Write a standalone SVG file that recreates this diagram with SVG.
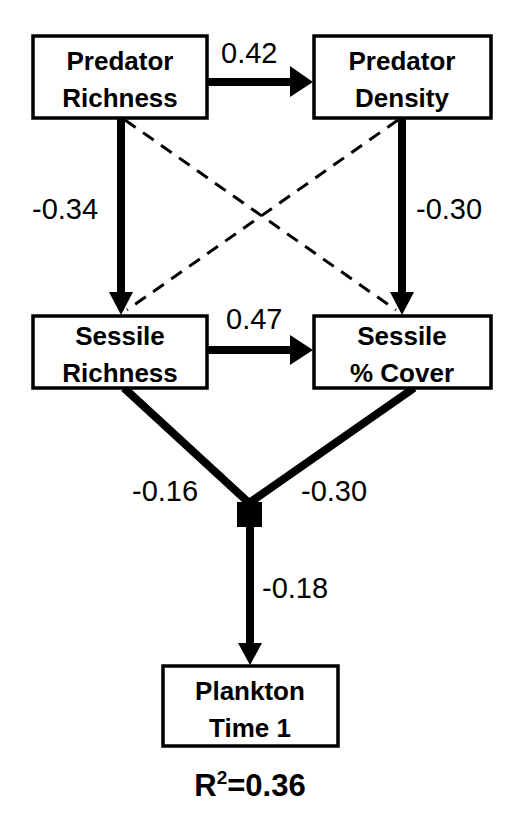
<svg xmlns="http://www.w3.org/2000/svg" width="528" height="816" viewBox="0 0 528 816">
<style>
.box{fill:#fff;stroke:#000;stroke-width:3.5}
.lbl{font-family:"Liberation Sans",Arial,sans-serif;font-weight:bold;font-size:26px;text-anchor:middle;fill:#000}
.num{font-family:"Liberation Sans",Arial,sans-serif;font-size:29px;fill:#000}
.thick{stroke:#000;stroke-width:8;fill:none}
.dash{stroke:#000;stroke-width:3;stroke-dasharray:13 9;fill:none}
</style>
<rect width="528" height="816" fill="#fff"/>
<g id="connectors">
<line class="dash" x1="125" y1="120" x2="396" y2="310"/>
<line class="dash" x1="398" y1="120" x2="127" y2="310"/>
<line class="thick" x1="207" y1="82" x2="292" y2="82"/>
<polygon points="290,66 313,82 290,97"/>
<line class="thick" x1="207" y1="350" x2="292" y2="350"/>
<polygon points="290,335 313,350 290,365"/>
<line class="thick" x1="121" y1="118" x2="121" y2="294"/>
<polygon points="109,292 133,292 121,315"/>
<line class="thick" x1="402" y1="118" x2="402" y2="294"/>
<polygon points="390,292 414,292 402,315"/>
<polyline class="thick" points="124,388 249,503 414,388"/>
<line class="thick" x1="250" y1="515" x2="250" y2="645"/>
<polygon points="238,643 262,643 250,665"/>
<rect x="237" y="502" width="25" height="25" fill="#000"/>
<text class="num" x="221" y="63">0.42</text>
<text class="num" x="226" y="329">0.47</text>
<text class="num" x="32" y="219">-0.34</text>
<text class="num" x="416" y="219">-0.30</text>
<text class="num" x="132" y="501">-0.16</text>
<text class="num" x="301" y="501">-0.30</text>
<text class="num" x="262" y="598">-0.18</text>
</g>
<g id="predator-richness">
<rect class="box" x="33" y="36" width="174" height="82"/>
<text class="lbl" x="120" y="70">Predator</text>
<text class="lbl" x="120" y="107">Richness</text>
</g>
<g id="predator-density">
<rect class="box" x="314" y="36" width="177" height="82"/>
<text class="lbl" x="402" y="70">Predator</text>
<text class="lbl" x="402" y="107">Density</text>
</g>
<g id="sessile-richness">
<rect class="box" x="33" y="316" width="174" height="72"/>
<text class="lbl" x="120" y="345">Sessile</text>
<text class="lbl" x="120" y="382">Richness</text>
</g>
<g id="sessile-cover">
<rect class="box" x="314" y="316" width="177" height="72"/>
<text class="lbl" x="402" y="345">Sessile</text>
<text class="lbl" x="402" y="382">% Cover</text>
</g>
<g id="plankton">
<rect class="box" x="163" y="666" width="175" height="80"/>
<text class="lbl" x="250" y="700">Plankton</text>
<text class="lbl" x="250" y="737">Time 1</text>
<text class="lbl" x="250" y="796" style="font-size:31px">R<tspan dy="-12" style="font-size:19px">2</tspan><tspan dy="12">=0.36</tspan></text>
</g>
</svg>
